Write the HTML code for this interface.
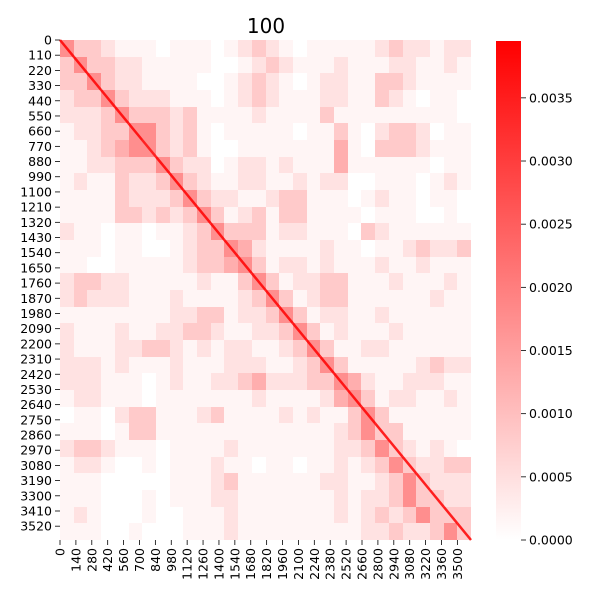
<!DOCTYPE html>
<html><head><meta charset="utf-8"><style>
html,body{margin:0;padding:0;background:#fff;width:600px;height:600px;overflow:hidden}
svg text{font-family:"DejaVu Sans","Liberation Sans",sans-serif;fill:#000}
</style></head><body>
<svg id="chart" width="600" height="600">
<defs><linearGradient id="cbg" x1="0" y1="1" x2="0" y2="0"><stop offset="0" stop-color="#fff"/><stop offset="1" stop-color="#f00"/></linearGradient></defs>
</svg>
<script>
const rows = [
"533211101110123210111112322122",
"353322111110012321112111221121",
"335322111100123210122113321111",
"233532221110123211122113210110",
"222353332311112111131111111110",
"122335532310111110113102332011",
"112345532310011111114103332111",
"112233353220122121114111111011",
"121132235321122112122001110121",
"111132223532211233111012110110",
"111133232353123133111101110010",
"211011011235333122111032111111",
"111011001233542111121101123223",
"110011111233453122121112112111",
"233221111121135312233111211121",
"232221112111123531233111111211",
"111111112233122353122112111111",
"211121122332112235312111211111",
"211122332121221123531122111111",
"222121112111222112353111112322",
"222111012112234222335421122211",
"122111011111112111124531221121",
"011023311123111121211353111111",
"111013311111111111112353311111",
"233211101111211111112235321210",
"122100101112110110112123532233",
"111000001112311111122112353222",
"111000101112211111112122353322",
"121000100111211111112123235333",
"111001000111211111111122322353"
];
const diagStrength = [9,9,9,9,9,9,8,9,9,9,9,9,9,9,9,9,9,9,9,9,9,9,9,9,9,9,9,9,9,9];
const yTicks = Array.from({length:33},(_, i)=>i*110);
const xTicks = Array.from({length:26},(_, i)=>i*140);
const cbTicks = [0,0.0005,0.001,0.0015,0.002,0.0025,0.003,0.0035];
const unitValue = 0.00035;
const vmax = 0.00395, N = 3620;
const svg = document.getElementById('chart'), NS='http://www.w3.org/2000/svg';
const L=60,T=40,W=411,H=500;
const xs = v=>L+v*W/N, ys=v=>T+v*H/N;
function mk(tag,attrs,parent){const e=document.createElementNS(NS,tag);for(const k in attrs)e.setAttribute(k,attrs[k]);(parent||svg).appendChild(e);return e;}
const g = mk('g',{'shape-rendering':'crispEdges'});


const n = rows.length, bs = N/n;
rows.forEach((row,r)=>{[...row].forEach((d,c)=>{
  const v=+d*unitValue; if(v<=0)return;
  const x0=Math.round(xs(c*bs)),x1=Math.round(xs((c+1)*bs)),y0=Math.round(ys(r*bs)),y1=Math.round(ys((r+1)*bs));
  const a=Math.min(1,Math.pow(v/vmax,1.5)*1.5);
  const el=mk('rect',{x:x0,y:y0,width:x1-x0,height:y1-y0,fill:'#f00','fill-opacity':a.toFixed(3)},g);
  
  
});});
const dg = mk('g',{});
diagStrength.forEach((s,i)=>{
  const a=i*bs,b=(i+1)*bs;
  const el=mk('line',{x1:xs(a),y1:ys(a),x2:xs(b),y2:ys(b),stroke:'#f00','stroke-width':2.5,'stroke-opacity':s/9*0.85},dg);
  
  
});
const t=mk('text',{x:266,y:33,'font-size':20,'text-anchor':'middle'});t.textContent='100';


yTicks.forEach(v=>{const y=ys(v);
  mk('line',{x1:55,x2:60,y1:y,y2:y,stroke:'#000','stroke-width':0.8});
  const tx=mk('text',{x:52,y:y+4.5,'font-size':12.5,'text-anchor':'end'});tx.textContent=v;
  
  
});
xTicks.forEach(v=>{const x=xs(v);
  mk('line',{x1:x,x2:x,y1:540,y2:545,stroke:'#000','stroke-width':0.8});
  const tx=mk('text',{x:0,y:0,'font-size':12.5,'text-anchor':'end',transform:`translate(${x+4.5},548) rotate(-90)`});tx.textContent=v;
  
  
});
const cb=mk('rect',{x:496,y:41,width:25,height:499,fill:'url(#cbg)'});


cbTicks.forEach(v=>{const y=540-v/vmax*499;
  mk('line',{x1:521,x2:526,y1:y,y2:y,stroke:'#000','stroke-width':0.8});
  const tx=mk('text',{x:529,y:y+4.5,'font-size':12.5});tx.textContent=v.toFixed(4);
  
  
});
</script>
</body></html>
